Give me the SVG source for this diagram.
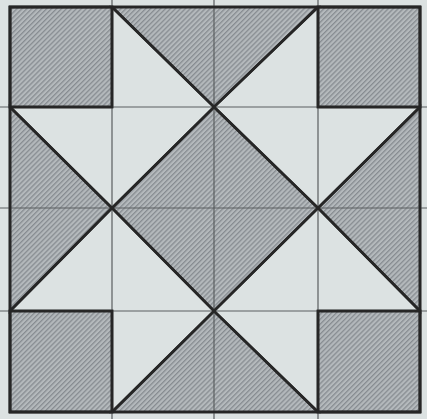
<svg xmlns="http://www.w3.org/2000/svg" width="427" height="419" viewBox="0 0 427 419">
<defs>
<pattern id="hatch" patternUnits="userSpaceOnUse" width="3.5" height="3.5" patternTransform="rotate(45)">
<rect width="3.5" height="3.5" fill="#b4b9bc"/>
<rect width="1.3" height="3.5" fill="#878c91"/>
</pattern>
</defs>
<style>
.dark{fill:url(#hatch);stroke:#262626;stroke-width:2.6;stroke-linejoin:miter}
.thin{stroke:#5a5e60;stroke-width:1.2;fill:none}
</style>
<rect x="0" y="0" width="427" height="419" fill="#dce2e2"/>
<g id="shapes">
<rect class="dark" x="10" y="7" width="102" height="100"/>
<rect class="dark" x="318" y="7" width="102" height="100"/>
<rect class="dark" x="10" y="311" width="102" height="101"/>
<rect class="dark" x="318" y="311" width="102" height="101"/>
<polygon class="dark" points="112,7 318,7 214,107"/>
<polygon class="dark" points="112,412 318,412 214,311"/>
<polygon class="dark" points="10,107 112,208 10,311"/>
<polygon class="dark" points="420,107 318,208 420,311"/>
<polygon class="dark" points="214,107 318,208 214,311 112,208"/>
</g>
<g id="grid">
<line class="thin" x1="112" y1="0" x2="112" y2="419"/>
<line class="thin" x1="214" y1="0" x2="214" y2="419"/>
<line class="thin" x1="318" y1="0" x2="318" y2="419"/>
<line class="thin" x1="0" y1="107" x2="427" y2="107"/>
<line class="thin" x1="0" y1="208" x2="427" y2="208"/>
<line class="thin" x1="0" y1="311" x2="427" y2="311"/>
</g>
<g id="outline" fill="none" stroke="#262626" stroke-width="2.6">
<rect x="10" y="7" width="410" height="405"/>
<rect x="10" y="7" width="102" height="100"/>
<rect x="318" y="7" width="102" height="100"/>
<rect x="10" y="311" width="102" height="101"/>
<rect x="318" y="311" width="102" height="101"/>
<polyline points="112,7 214,107 318,7"/>
<polyline points="112,412 214,311 318,412"/>
<polyline points="10,107 112,208 10,311"/>
<polyline points="420,107 318,208 420,311"/>
<polygon points="214,107 318,208 214,311 112,208"/>
</g>
</svg>
